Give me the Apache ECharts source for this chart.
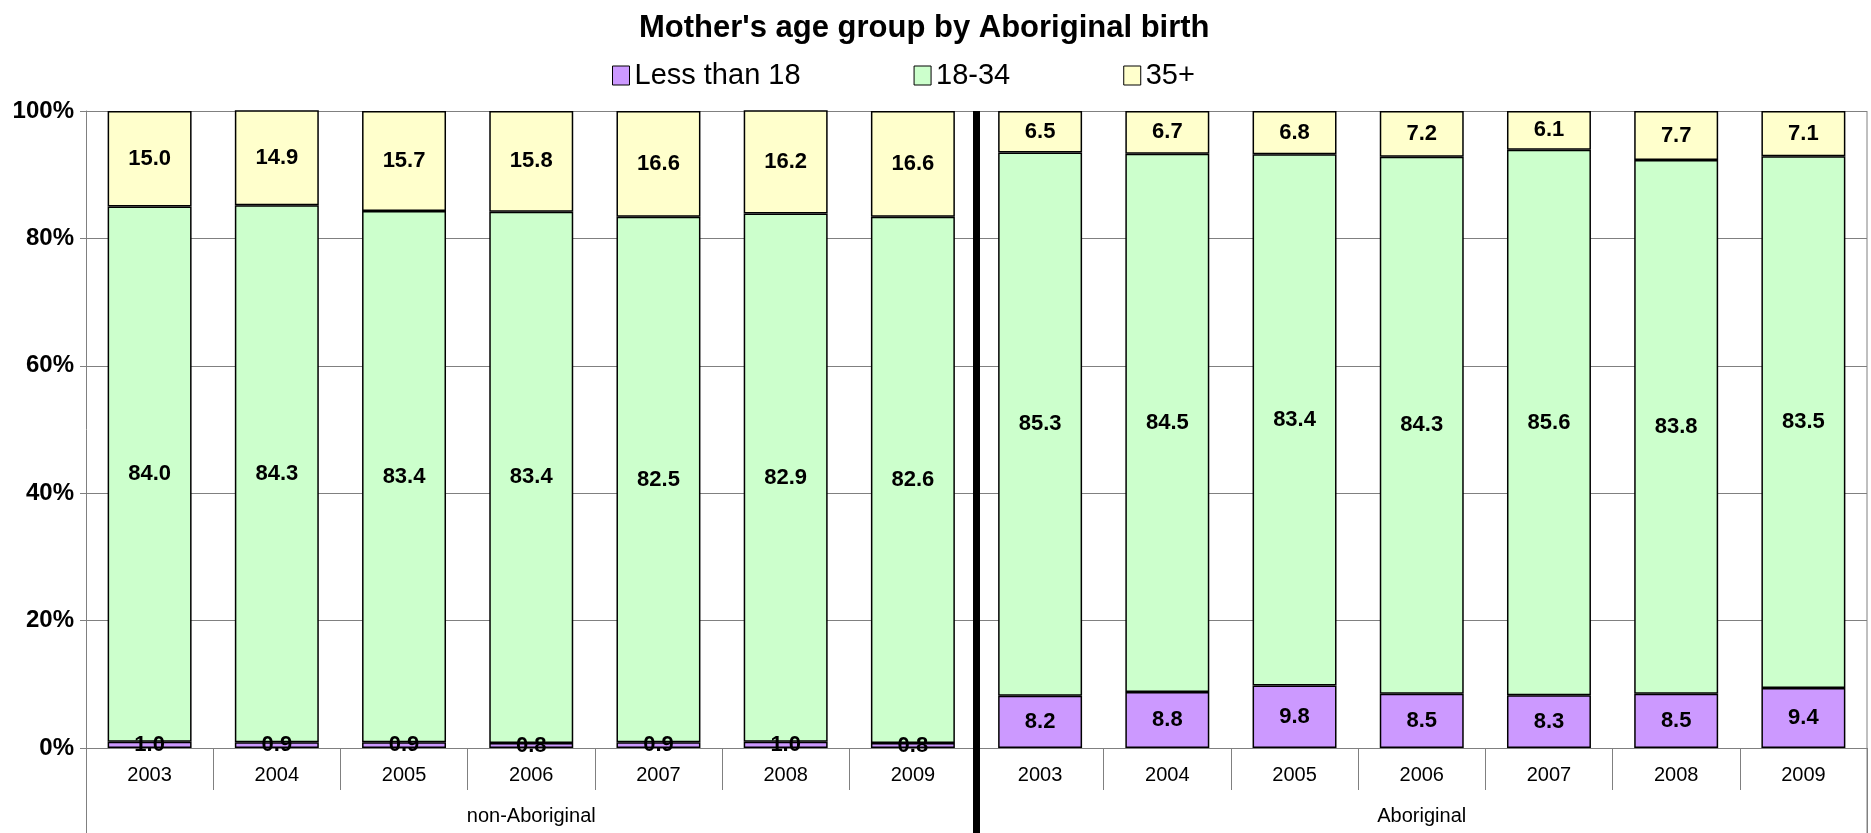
<!DOCTYPE html>
<html>
<head>
<meta charset="utf-8">
<title>Mother's age group by Aboriginal birth</title>
<script src="https://cdn.jsdelivr.net/npm/echarts@6/dist/echarts.min.js"></script>
<style>
    html, body { margin: 0; padding: 0; background: #fff; }
    #chart_bar { width: 1871px; height: 833px; }
</style>
</head>
<body>
<div id="chart_bar"></div>
<script>
    // data
    var years = ['2003', '2004', '2005', '2006', '2007', '2008', '2009'];
    var groups = ['non-Aboriginal', 'Aboriginal'];
    var yTicks = [0, 20, 40, 60, 80, 100];

    var under18 = [1.0, 0.9, 0.9, 0.8, 0.9, 1.0, 0.8, 8.2, 8.8, 9.8, 8.5, 8.3, 8.5, 9.4];
    var age18to34 = [84.0, 84.3, 83.4, 83.4, 82.5, 82.9, 82.6, 85.3, 84.5, 83.4, 84.3, 85.6, 83.8, 83.5];
    var age35plus = [15.0, 14.9, 15.7, 15.8, 16.6, 16.2, 16.6, 6.5, 6.7, 6.8, 7.2, 6.1, 7.7, 7.1];

    var font = '"Liberation Sans", Arial, sans-serif';
    var categories = years.concat(years);

    function barSeries(name, data, color) {
        return {
            name: name,
            type: 'bar',
            stack: 'total',
            barWidth: '66%',
            data: data,
            itemStyle: {
                color: color,
                borderColor: '#000',
                borderWidth: 1.5
            },
            label: {
                show: true,
                position: 'inside',
                color: '#000',
                fontFamily: font,
                fontWeight: 'bold',
                fontSize: 22,
                formatter: function (p) { return p.value.toFixed(1); }
            }
        };
    }

    var myChart = echarts.init(document.getElementById('chart_bar'));
    var option = {
        animation: false,
        backgroundColor: '#fff',
        title: {
            text: "Mother's age group by Aboriginal birth",
            left: 634,
            top: 8,
            textStyle: { fontFamily: font, fontWeight: 'bold', fontSize: 31, color: '#000' }
        },
        legend: {
            left: 607,
            top: 56,
            itemWidth: 17,
            itemHeight: 19,
            itemGap: 113,
            icon: 'rect',
            itemStyle: { borderColor: '#000', borderWidth: 1 },
            textStyle: { fontFamily: font, fontSize: 29, color: '#000' },
            data: ['Less than 18', '18-34', '35+']
        },
        grid: {
            left: 86,
            right: 4,
            top: 111,
            bottom: 85
        },
        xAxis: [
            {
                type: 'category',
                data: categories,
                axisLine: { show: true, lineStyle: { color: '#808080', width: 1 } },
                axisTick: { show: true, interval: 0, length: 42, lineStyle: { color: '#808080' } },
                axisLabel: { interval: 0, margin: 17, fontFamily: font, fontSize: 20, color: '#000' }
            },
            {
                type: 'category',
                data: groups,
                position: 'bottom',
                axisLine: { show: false },
                axisTick: { show: true, interval: 0, length: 86, lineStyle: { color: '#808080' } },
                axisLabel: { interval: 0, margin: 58, fontFamily: font, fontSize: 20, color: '#000' }
            }
        ],
        yAxis: {
            type: 'value',
            min: yTicks[0],
            max: yTicks[yTicks.length - 1],
            interval: 20,
            axisLine: { show: true, lineStyle: { color: '#808080' } },
            axisTick: { show: true, length: 6, lineStyle: { color: '#808080' } },
            axisLabel: {
                margin: 12,
                fontFamily: font,
                fontWeight: 'bold',
                fontSize: 24,
                color: '#000',
                formatter: '{value}%'
            },
            splitLine: { show: true, lineStyle: { color: '#808080', width: 1 } }
        },
        series: [
            barSeries('Less than 18', under18, '#cc99ff'),
            barSeries('18-34', age18to34, '#ccffcc'),
            barSeries('35+', age35plus, '#ffffcc')
        ]
    };
    myChart.setOption(option);

    // thick divider between the two groups, plus the right border line
    var leftLast = myChart.convertToPixel({ xAxisIndex: 0 }, years.length - 1);
    var rightFirst = myChart.convertToPixel({ xAxisIndex: 0 }, years.length);
    var divX = (leftLast + rightFirst) / 2;
    var topY = myChart.convertToPixel({ yAxisIndex: 0 }, 100);
    var rightX = myChart.convertToPixel({ xAxisIndex: 0 }, categories.length - 1) + (rightFirst - leftLast) / 2;
    myChart.setOption({
        graphic: [
            {
                type: 'rect',
                shape: { x: divX - 3.5, y: topY, width: 7, height: 833 - topY },
                style: { fill: '#000' },
                z: 100
            },
            {
                type: 'line',
                shape: { x1: rightX, y1: topY, x2: rightX, y2: 833 },
                style: { stroke: '#808080', lineWidth: 1 },
                z: 100
            }
        ]
    });
</script>
</body>
</html>
